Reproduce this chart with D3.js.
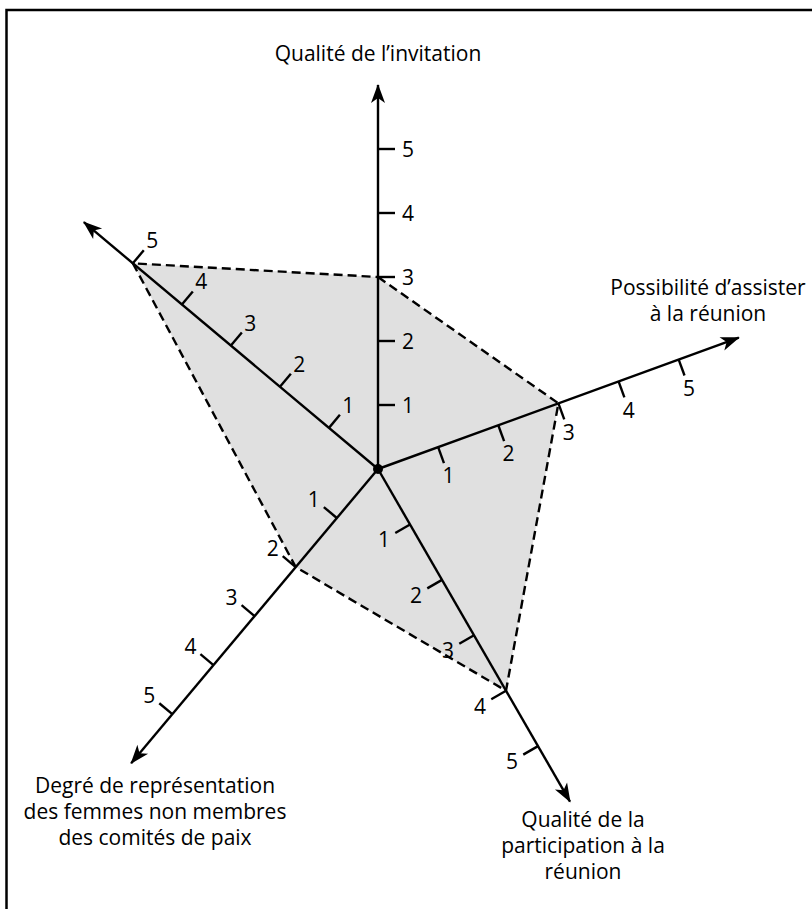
<!DOCTYPE html>
<html lang="fr">
<head>
<meta charset="utf-8">
<title>Radar</title>
<script src="https://cdn.jsdelivr.net/npm/d3@7"></script>
<style>
  body { margin: 0; background: #fff; }
  svg text { font-family: "Open Sans", "Noto Sans", sans-serif; fill: #000; }
</style>
</head>
<body>
<script>
// axis titles (one entry per line), the up-left axis has no title
var axisLabels = [
  ["Qualité de l’invitation"],
  ["Possibilité d’assister", "à la réunion"],
  ["Qualité de la", "participation à la", "réunion"],
  ["Degré de représentation", "des femmes non membres", "des comités de paix"],
  []
];
var scores = [3, 3, 4, 2, 5];
var tickValues = [1, 2, 3, 4, 5];

// layout
var w = 812, h = 909;
var cx = 378, cy = 469;
var angles = [90, 20, -60, -130, 140];        // degrees, counter-clockwise from east
var labelPos = [[378, 61], [708, 295], [583, 827], [155, 793], [0, 0]]; // first baseline, centre
var lineH = 26;

var r = d3.scaleLinear().domain([0, 5]).range([0, 320]);
var axisMax = 6;

function pt(i, v) {
  var a = angles[i] * Math.PI / 180;
  return [cx + r(v) * Math.cos(a), cy - r(v) * Math.sin(a)];
}
function dir(i) {
  var a = angles[i] * Math.PI / 180;
  return [Math.cos(a), -Math.sin(a)];
}

var svg = d3.select("body").append("svg")
  .attr("width", w)
  .attr("height", h);

svg.append("defs").append("marker")
  .attr("id", "arrow")
  .attr("viewBox", "-20 -8 22 16")
  .attr("refX", 0).attr("refY", 0)
  .attr("markerWidth", 22).attr("markerHeight", 16)
  .attr("markerUnits", "userSpaceOnUse")
  .attr("orient", "auto")
  .append("path")
  .attr("d", "M1,0 L-18,-7 L-13,0 L-18,7 Z")
  .attr("fill", "#000");

// frame (only top and left edges visible)
svg.append("path")
  .attr("d", "M6.5,909 L6.5,10 L812,10")
  .attr("fill", "none")
  .attr("stroke", "#000")
  .attr("stroke-width", 2.5);

// polygon
var poly = scores.map(function(d, i) { return pt(i, d); });
svg.append("polygon")
  .attr("points", poly.map(function(p) { return p.join(","); }).join(" "))
  .attr("fill", "#e0e0e0")
  .attr("stroke", "#000")
  .attr("stroke-width", 2.4)
  .attr("stroke-dasharray", "9,5");

// axes
var axisG = svg.selectAll(".axis")
  .data(angles)
  .enter().append("g")
  .attr("class", "axis");

axisG.append("line")
  .attr("x1", cx).attr("y1", cy)
  .attr("x2", function(d, i) { return pt(i, axisMax)[0]; })
  .attr("y2", function(d, i) { return pt(i, axisMax)[1]; })
  .attr("stroke", "#000")
  .attr("stroke-width", 2.4)
  .attr("marker-end", "url(#arrow)");

// ticks: perpendicular, on the clockwise side of each axis
axisG.each(function(d, i) {
  var g = d3.select(this);
  var u = dir(i), n = [-u[1], u[0]];
  g.selectAll("line.tick")
    .data(tickValues)
    .enter().append("line")
    .attr("class", "tick")
    .attr("x1", function(v) { return pt(i, v)[0]; })
    .attr("y1", function(v) { return pt(i, v)[1]; })
    .attr("x2", function(v) { return pt(i, v)[0] + 17 * n[0]; })
    .attr("y2", function(v) { return pt(i, v)[1] + 17 * n[1]; })
    .attr("stroke", "#000")
    .attr("stroke-width", 2.4);
  g.selectAll("text.tl")
    .data(tickValues)
    .enter().append("text")
    .attr("class", "tl")
    .attr("x", function(v) { return pt(i, v)[0] + 30 * n[0]; })
    .attr("y", function(v) { return pt(i, v)[1] + 30 * n[1]; })
    .attr("text-anchor", "middle")
    .attr("dominant-baseline", "central")
    .attr("font-size", "21px")
    .text(function(v) { return v; });
});

// axis titles
axisLabels.forEach(function(lines, i) {
  var t = svg.append("text")
    .attr("text-anchor", "middle")
    .attr("font-size", "21px");
  lines.forEach(function(s, k) {
    t.append("tspan")
      .attr("x", labelPos[i][0])
      .attr("y", labelPos[i][1] + k * lineH)
      .text(s);
  });
});

// centre dot
svg.append("circle")
  .attr("cx", cx).attr("cy", cy)
  .attr("r", 5)
  .attr("fill", "#000");
</script>
</body>
</html>
